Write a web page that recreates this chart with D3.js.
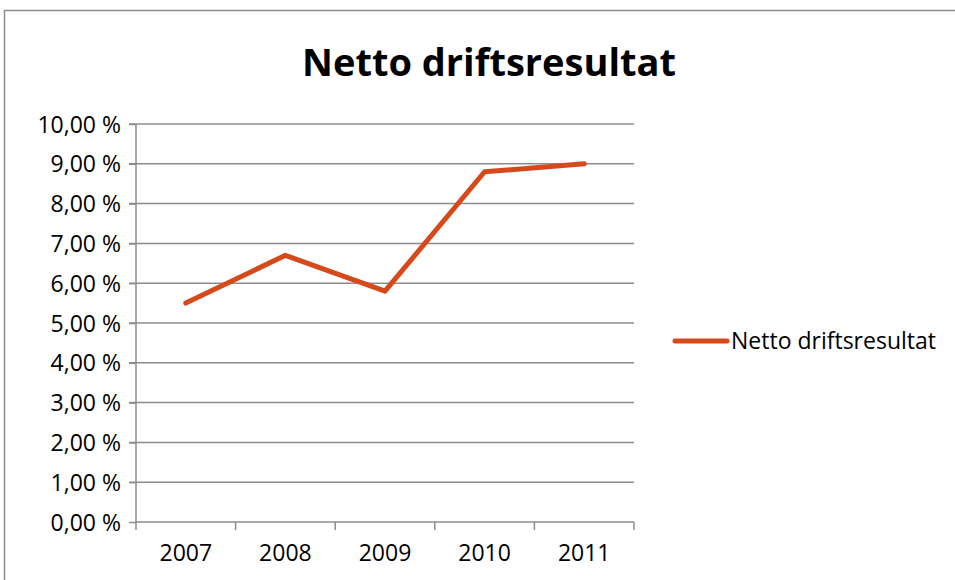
<!DOCTYPE html>
<html lang="no">
<head>
<meta charset="UTF-8" />
<title>Netto driftsresultat</title>
<script src="https://d3js.org/d3.v7.min.js"></script>
<style>
  body { margin: 0; background: #fff; }
  svg text { font-family: "Open Sans", "Liberation Sans", sans-serif; fill: #000; }
</style>
</head>
<body>
<div id="chart"></div>
<script>
const width = 955, height = 580;

// data
const years = ["2007", "2008", "2009", "2010", "2011"];
const values = [5.5, 6.7, 5.8, 8.8, 9.0];
const yTicks = [0, 1, 2, 3, 4, 5, 6, 7, 8, 9, 10];
const seriesName = "Netto driftsresultat";

const margin = { left: 136, right: 321, top: 124, bottom: 58 };
const lineColor = "#d5491a";
const fs = 23;

const svg = d3.select("#chart").append("svg")
  .attr("width", width)
  .attr("height", height);

// outer chart border
svg.append("rect")
  .attr("x", 4.5).attr("y", 10.5)
  .attr("width", width + 10).attr("height", height + 10)
  .attr("fill", "none")
  .attr("stroke", "#8c8c8c")
  .attr("stroke-width", 1.5);

const x = d3.scaleBand()
  .domain(years)
  .range([margin.left, width - margin.right]);

const y = d3.scaleLinear()
  .domain([0, 10])
  .range([height - margin.bottom, margin.top]);

// gridlines
svg.append("g")
  .selectAll("line")
  .data(yTicks.filter(d => d > 0))
  .join("line")
  .attr("x1", margin.left - 7)
  .attr("x2", width - margin.right)
  .attr("y1", d => y(d))
  .attr("y2", d => y(d))
  .attr("stroke", "#8c8c8c")
  .attr("stroke-width", 1.5);

// y axis
const yAxis = svg.append("g")
  .attr("transform", `translate(${margin.left},0)`)
  .call(d3.axisLeft(y).tickValues(yTicks).tickSize(7).tickPadding(8)
    .tickFormat(d => d3.format(".2f")(d).replace(".", ",") + " %"));
yAxis.selectAll("line, path").attr("stroke", "#8c8c8c").attr("stroke-width", 1.5);
yAxis.select(".domain").attr("d", `M0,${y(10)}V${y(0)}`);
yAxis.selectAll("text").attr("font-size", fs).attr("dy", "0.35em");

// x axis
const xAxis = svg.append("g")
  .attr("transform", `translate(0,${y(0)})`)
  .call(d3.axisBottom(x).tickSize(0).tickPadding(23));
xAxis.select(".domain").attr("stroke", "#8c8c8c").attr("stroke-width", 1.5)
  .attr("d", `M${margin.left},0H${width - margin.right}`);
xAxis.selectAll("text").attr("font-size", fs);
// tick marks between categories
xAxis.append("g")
  .selectAll("line")
  .data(years.concat(["end"]))
  .join("line")
  .attr("x1", (d, i) => i < years.length ? x(d) : x.range()[1])
  .attr("x2", (d, i) => i < years.length ? x(d) : x.range()[1])
  .attr("y1", 0).attr("y2", 8)
  .attr("stroke", "#8c8c8c").attr("stroke-width", 1.5);

// line
const line = d3.line()
  .x((d, i) => x(years[i]) + x.bandwidth() / 2)
  .y(d => y(d));

svg.append("path")
  .datum(values)
  .attr("d", line)
  .attr("fill", "none")
  .attr("stroke", lineColor)
  .attr("stroke-width", 5)
  .attr("stroke-linejoin", "round")
  .attr("stroke-linecap", "round");

// title
svg.append("text")
  .attr("x", 489).attr("y", 76)
  .attr("text-anchor", "middle")
  .attr("font-size", 38)
  .attr("font-weight", "bold")
  .text(seriesName);

// legend
const lg = svg.append("g").attr("transform", "translate(675,341)");
lg.append("line")
  .attr("x1", 0).attr("x2", 52)
  .attr("stroke", lineColor).attr("stroke-width", 5)
  .attr("stroke-linecap", "round");
lg.append("text")
  .attr("x", 56).attr("dy", "0.35em")
  .attr("font-size", fs)
  .text(seriesName);
</script>
</body>
</html>
